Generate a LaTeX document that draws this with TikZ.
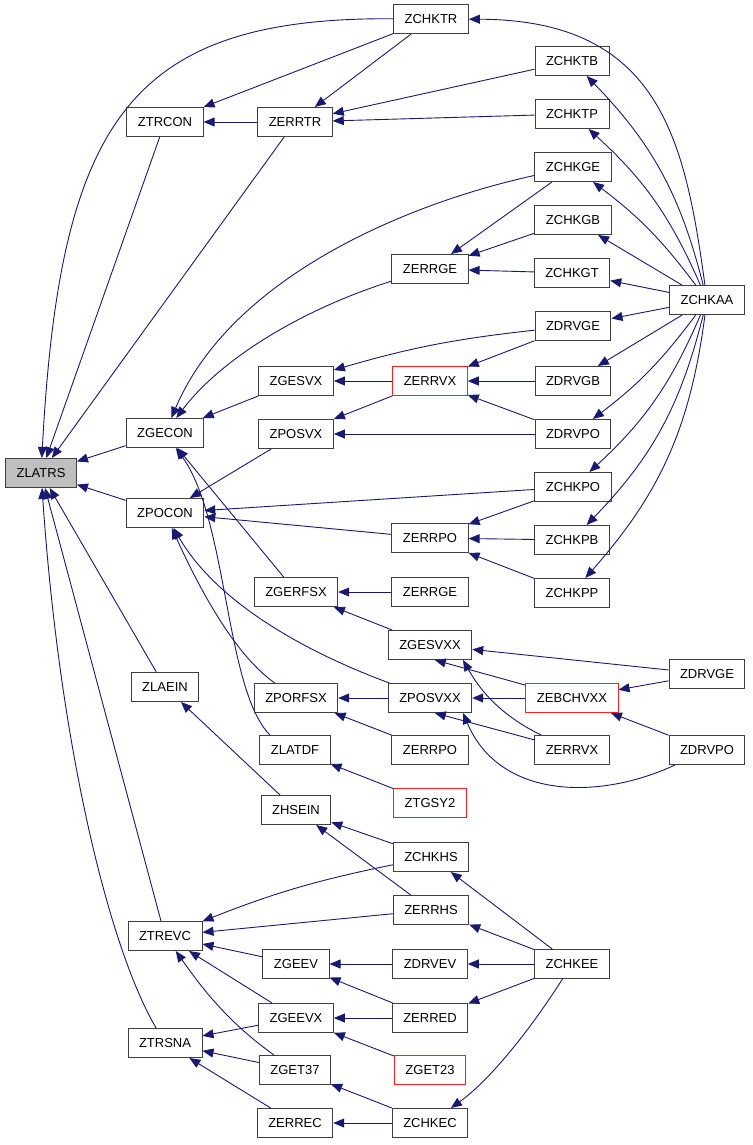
\documentclass[tikz,border=0pt]{standalone}
\usepackage{fontspec}
\setmainfont{Liberation Sans}
\usetikzlibrary{arrows.meta}
\definecolor{doxblau}{HTML}{191970}
\definecolor{rahmen}{HTML}{404040}
\definecolor{rot}{HTML}{FF2020}
\tikzset{
  fn/.style={draw=rahmen, line width=1pt, fill=white, inner xsep=11pt, inner ysep=0pt,
    minimum height=29pt, font=\fontsize{13}{15}\selectfont},
  fnrot/.style={fn, draw=rot},
  kante/.style={draw=doxblau, line width=0.9pt, -{Triangle[length=11pt,width=9pt]}},
}
\begin{document}
\begin{tikzpicture}[x=1pt,y=1pt]
        \useasboundingbox (0,0) rectangle (752,-1145);
        % Spalte 1
        \node[fn, fill={rgb,255:red,191;green,191;blue,191}] (zlatrs) at (41,-473) {ZLATRS};
        % Spalte 2
        \node[fn] (ztrcon) at (165,-122) {ZTRCON};
        \node[fn] (zgecon) at (165,-433) {ZGECON};
        \node[fn] (zpocon) at (165,-513) {ZPOCON};
        \node[fn] (zlaein) at (165,-687) {ZLAEIN};
        \node[fn] (ztrevc) at (165,-936) {ZTREVC};
        \node[fn] (ztrsna) at (165,-1043) {ZTRSNA};
        % Spalte 3
        \node[fn] (zerrtr) at (295,-122) {ZERRTR};
        \node[fn] (zgesvx) at (296,-381) {ZGESVX};
        \node[fn] (zposvx) at (296,-434) {ZPOSVX};
        \node[fn] (zgerfsx) at (296,-592) {ZGERFSX};
        \node[fn] (zporfsx) at (296,-698) {ZPORFSX};
        \node[fn] (zlatdf) at (295,-750) {ZLATDF};
        \node[fn] (zhsein) at (296,-810) {ZHSEIN};
        \node[fn] (zgeev) at (296,-964) {ZGEEV};
        \node[fn] (zgeevx) at (296,-1018) {ZGEEVX};
        \node[fn] (zget37) at (295,-1070) {ZGET37};
        \node[fn] (zerrec) at (295,-1123) {ZERREC};
        % Spalte 4
        \node[fn] (zchktr) at (431,-19) {ZCHKTR};
        \node[fn] (zerrge) at (430,-269) {ZERRGE};
        \node[fnrot] (zerrvx) at (430,-381) {ZERRVX};
        \node[fn] (zerrpo) at (430,-538) {ZERRPO};
        \node[fn] (zerrgeb) at (430,-592) {ZERRGE};
        \node[fn] (zgesvxx) at (430,-645) {ZGESVXX};
        \node[fn] (zposvxx) at (430,-698) {ZPOSVXX};
        \node[fn] (zerrpob) at (430,-750) {ZERRPO};
        \node[fnrot] (ztgsy2) at (430,-803) {ZTGSY2};
        \node[fn] (zchkhs) at (431,-857) {ZCHKHS};
        \node[fn] (zerrhs) at (431,-910) {ZERRHS};
        \node[fn] (zdrvev) at (430,-964) {ZDRVEV};
        \node[fn] (zerred) at (430,-1018) {ZERRED};
        \node[fnrot] (zget23) at (430,-1070) {ZGET23};
        \node[fn] (zchkec) at (430,-1123) {ZCHKEC};
        % Spalte 5
        \node[fn] (zchktb) at (572,-61) {ZCHKTB};
        \node[fn] (zchktp) at (572,-114) {ZCHKTP};
        \node[fn] (zchkge) at (573,-167) {ZCHKGE};
        \node[fn] (zchkgb) at (573,-220) {ZCHKGB};
        \node[fn] (zchkgt) at (572,-273) {ZCHKGT};
        \node[fn] (zdrvge) at (573,-326) {ZDRVGE};
        \node[fn] (zdrvgb) at (573,-381) {ZDRVGB};
        \node[fn] (zdrvpo) at (573,-434) {ZDRVPO};
        \node[fn] (zchkpo) at (573,-487) {ZCHKPO};
        \node[fn] (zchkpb) at (572,-540) {ZCHKPB};
        \node[fn] (zchkpp) at (572,-593) {ZCHKPP};
        \node[fnrot] (zebchvxx) at (572,-698) {ZEBCHVXX};
        \node[fn] (zerrvxb) at (572,-750) {ZERRVX};
        \node[fn] (zchkee) at (572,-964) {ZCHKEE};
        % Spalte 6
        \node[fn] (zchkaa) at (707,-300) {ZCHKAA};
        \node[fn] (zdrvgeb) at (707,-674) {ZDRVGE};
        \node[fn] (zdrvpob) at (707,-750) {ZDRVPO};
        % Kanten nach ZLATRS
        \draw[kante] (zchktr) .. controls (130,-17) and (60,-120) .. (zlatrs);
        \draw[kante] (ztrcon) -- (zlatrs);
        \draw[kante] (zerrtr) -- (zlatrs);
        \draw[kante] (zgecon) -- (zlatrs);
        \draw[kante] (zpocon) -- (zlatrs);
        \draw[kante] (zlaein) -- (zlatrs);
        \draw[kante] (ztrevc) -- (zlatrs);
        \draw[kante] (ztrsna) .. controls (110,-950) and (60,-750) .. (zlatrs);
        % ZTRCON, ZERRTR
        \draw[kante] (zerrtr) -- (ztrcon);
        \draw[kante] (zchktr) -- (ztrcon);
        \draw[kante] (zchktr) -- (zerrtr);
        \draw[kante] (zchktb) -- (zerrtr);
        \draw[kante] (zchktp) -- (zerrtr);
        % ZCHKAA
        \draw[kante] (zchkaa) .. controls (685,-140) and (660,-20) .. (zchktr);
        \draw[kante] (zchkaa) to[bend right=15] (zchktb);
        \draw[kante] (zchkaa) to[bend right=12] (zchktp);
        \draw[kante] (zchkaa) to[bend right=8] (zchkge);
        \draw[kante] (zchkaa) -- (zchkgb);
        \draw[kante] (zchkaa) -- (zchkgt);
        \draw[kante] (zchkaa) -- (zdrvge);
        \draw[kante] (zchkaa) -- (zdrvgb);
        \draw[kante] (zchkaa) to[bend left=8] (zdrvpo);
        \draw[kante] (zchkaa) to[bend left=12] (zchkpo);
        \draw[kante] (zchkaa) to[bend left=15] (zchkpb);
        \draw[kante] (zchkaa) to[bend left=17] (zchkpp);
        % ZGECON
        \draw[kante] (zchkge) -- (zerrge);
        \draw[kante] (zchkgb) -- (zerrge);
        \draw[kante] (zchkgt) -- (zerrge);
        \draw[kante] (zerrge) .. controls (300,-310) and (220,-360) .. (zgecon);
        \draw[kante] (zchkge) .. controls (400,-205) and (230,-280) .. (zgecon);
        \draw[kante] (zgesvx) -- (zgecon);
        \draw[kante] (zerrvx) -- (zgesvx);
        \draw[kante] (zdrvge) to[bend right=5] (zgesvx);
        \draw[kante] (zdrvge) -- (zerrvx);
        \draw[kante] (zdrvgb) -- (zerrvx);
        \draw[kante] (zdrvpo) -- (zerrvx);
        \draw[kante] (zdrvpo) -- (zposvx);
        \draw[kante] (zerrvx) -- (zposvx);
        \draw[kante] (zgerfsx) -- (zgecon);
        \draw[kante] ([xshift=-25pt]zlatdf.north) .. controls (225,-690) and (228,-520) .. (zgecon);
        % ZPOCON
        \draw[kante] (zposvx) -- (zpocon);
        \draw[kante] (zchkpo) -- (zpocon);
        \draw[kante] (zerrpo) -- (zpocon);
        \draw[kante] (zchkpo) -- (zerrpo);
        \draw[kante] (zchkpb) -- (zerrpo);
        \draw[kante] (zchkpp) -- (zerrpo);
        \draw[kante] (zporfsx) .. controls (235,-655) and (200,-590) .. (zpocon);
        \draw[kante] (zposvxx) .. controls (300,-650) and (215,-600) .. (zpocon);
        % Expertentreiber
        \draw[kante] (zerrgeb) -- (zgerfsx);
        \draw[kante] (zgesvxx) -- (zgerfsx);
        \draw[kante] (zdrvgeb) -- (zgesvxx);
        \draw[kante] (zebchvxx) -- ([xshift=47pt]zgesvxx.south west);
        \draw[kante] (zerrvxb) .. controls (500,-715) and (480,-690) .. ([xshift=33pt]zgesvxx.south);
        \draw[kante] (zebchvxx) -- (zposvxx);
        \draw[kante] (zerrvxb) -- ([xshift=47pt]zposvxx.south west);
        \draw[kante] (zdrvpob) .. controls (600,-800) and (500,-800) .. ([xshift=33pt]zposvxx.south);
        \draw[kante] (zdrvgeb) -- (zebchvxx);
        \draw[kante] (zdrvpob) -- (zebchvxx);
        \draw[kante] (zposvxx) -- (zporfsx);
        \draw[kante] (zerrpob) -- (zporfsx);
        \draw[kante] (ztgsy2) -- (zlatdf);
        % ZLAEIN, ZTREVC, ZTRSNA
        \draw[kante] (zhsein) -- (zlaein);
        \draw[kante] (zchkhs) -- (zhsein);
        \draw[kante] (zerrhs) -- (zhsein);
        \draw[kante] (zchkhs) to[bend right=5] (ztrevc);
        \draw[kante] (zerrhs) -- (ztrevc);
        \draw[kante] (zgeev) -- (ztrevc);
        \draw[kante] (zgeevx) -- (ztrevc);
        \draw[kante] (zget37) .. controls (225,-1020) and (200,-985) .. (ztrevc);
        \draw[kante] (zchkee) -- (zchkhs);
        \draw[kante] (zchkee) -- (zerrhs);
        \draw[kante] (zchkee) -- (zdrvev);
        \draw[kante] (zchkee) -- (zerred);
        \draw[kante] (zdrvev) -- (zgeev);
        \draw[kante] (zerred) -- (zgeev);
        \draw[kante] (zerred) -- (zgeevx);
        \draw[kante] (zget23) -- (zgeevx);
        \draw[kante] (zgeevx) -- (ztrsna);
        \draw[kante] (zget37) -- (ztrsna);
        \draw[kante] (zerrec) -- (ztrsna);
        \draw[kante] (zchkec) -- (zerrec);
        \draw[kante] (zchkec) -- (zget37);
        \draw[kante] (zchkee) .. controls (530,-1030) and (490,-1080) .. (zchkec);
    \end{tikzpicture}
\end{document}
